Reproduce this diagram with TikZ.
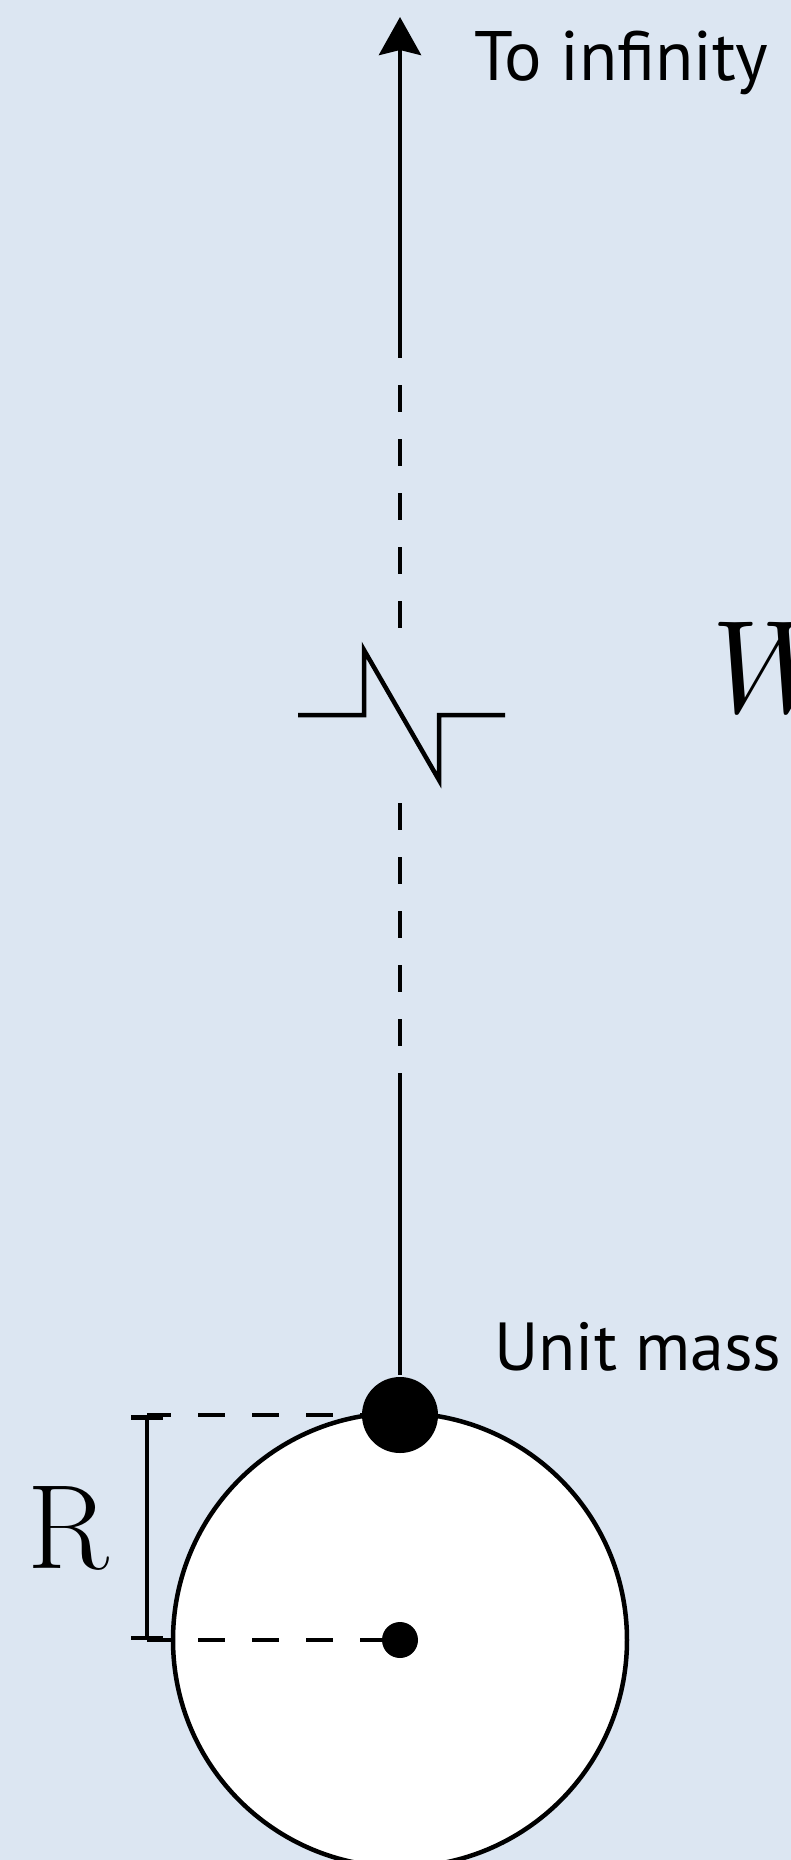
\documentclass[tikz,border=0pt]{standalone}
\usepackage{fontspec}
\newfontfamily\labelfont{PT Sans}
\usetikzlibrary{arrows.meta}
\definecolor{sky}{RGB}{220,230,242}

\begin{document}
\begin{tikzpicture}[x=0.5pt, y=-0.5pt, line width=2.25pt,
  dashline/.style={dash pattern=on 13.5pt off 13.5pt},
  tag/.style={font=\labelfont\fontsize{35}{40}\selectfont, anchor=base west, inner sep=0pt}]
\fill[sky] (0,0) rectangle (791,1860);
\useasboundingbox (0,0) rectangle (791,1860);
\clip (0,0) rectangle (791,1860);
% planet and the two masses
\node[circle, draw, fill=white, inner sep=0pt, minimum size=227pt] (planet) at (400,1640) {};
\coordinate (rtop) at (147,1415);
\coordinate (rbot) at (147,1640);
\draw[dashline, dash phase=1.5pt] (rtop) -- (400,1415);
\draw[dashline, dash phase=1.5pt] (rbot) -- (400,1640);
\draw[{Bar[width=16pt]}-{Bar[width=16pt]}] (rtop) -- (rbot);
\node[circle, fill, inner sep=0pt, minimum size=38pt] (mass) at (400,1415) {};
\node[circle, fill, inner sep=0pt, minimum size=18pt] (centre) at (400,1640) {};
\node[anchor=base west, inner sep=0pt, font=\fontsize{60}{70}\selectfont] (rlabel) at (25,1568) {R};
% path to infinity
\coordinate (tip) at (400,17);
\coordinate (s1) at (400,331);
\coordinate (b1) at (400,628);
\coordinate (b2) at (400,803);
\coordinate (s2) at (400,1100);
\draw[-{Stealth[length=19pt, width=21pt, inset=2.5pt]}] (s1) -- (tip);
\draw[dashline] (s1) -- (b1);
\draw[dashline] (b2) -- (s2);
\draw (mass) -- (s2);
% break
\draw (298,715) -- (364,715) -- (364,650) -- (439,780) -- (439,715) -- (505,715);
\node[tag] (infinity) at (472,80) {To infinity};
\node[tag, font=\labelfont\fontsize{34}{40}\selectfont] (unitmass) at (492,1370) {Unit mass};
\node[anchor=base west, inner sep=0pt] (work) at (709,712) {\scalebox{6.6}{$W$}};
\end{tikzpicture}
\end{document}
